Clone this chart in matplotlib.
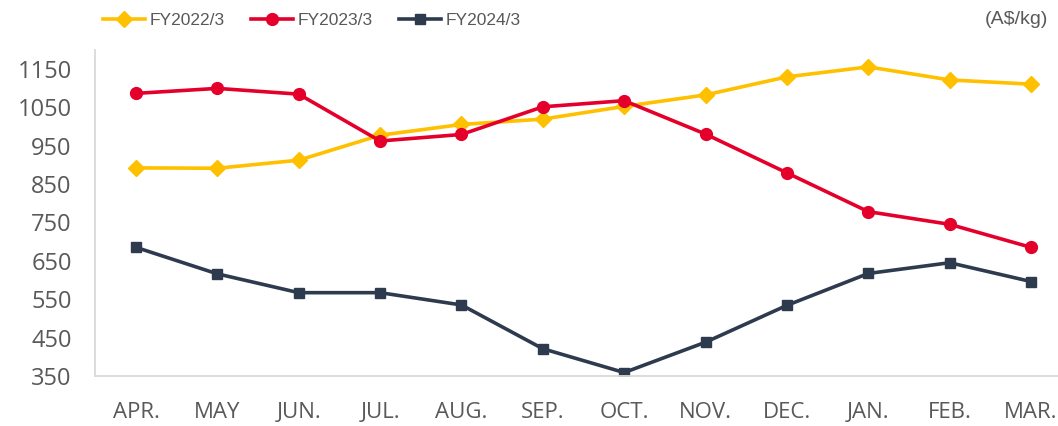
import matplotlib
matplotlib.use('Agg')
import matplotlib.pyplot as plt

months = ['APR.', 'MAY', 'JUN.', 'JUL.', 'AUG.', 'SEP.', 'OCT.', 'NOV.', 'DEC.', 'JAN.', 'FEB.', 'MAR.']
fy2022 = [892, 891, 912, 977, 1005, 1019, 1052, 1082, 1129, 1155, 1121, 1110]
fy2023 = [1086, 1099, 1084, 962, 979, 1051, 1067, 980, 879, 778, 745, 685]
fy2024 = [685, 616, 567, 567, 535, 421, 359, 438, 534, 617, 645, 596]
yticks = [350, 450, 550, 650, 750, 850, 950, 1050, 1150]

grey = '#595959'

fig = plt.figure(figsize=(10.58, 4.26), dpi=100)
ax = fig.add_axes([95.3/1058, 50/426, 976.4/1058, 326.4/426])

x = list(range(len(months)))
ax.plot(x, fy2022, color='#FFC000', lw=2.6, marker='D', ms=8.5, label='FY2022/3')
ax.plot(x, fy2023, color='#E4002B', lw=2.6, marker='o', ms=8.5, label='FY2023/3')
ax.plot(x, fy2024, color='#2E3B4E', lw=2.6, marker='s', ms=7.5, label='FY2024/3')

ax.set_xlim(-0.5, 11.5)
ax.set_ylim(350, 1200)
ax.set_xticks(x)
ax.set_xticklabels(months, fontfamily='Open Sans', fontsize=16, color=grey)
ax.set_yticks(yticks)
ax.set_yticklabels([str(v) for v in yticks], fontfamily='Open Sans', fontsize=17, color=grey)
ax.tick_params(axis='both', length=0)
ax.tick_params(axis='y', pad=17)
ax.tick_params(axis='x', pad=19)

for s in ['top', 'right']:
    ax.spines[s].set_visible(False)
for s in ['left', 'bottom']:
    ax.spines[s].set_color('#D9D9D9')
    ax.spines[s].set_linewidth(1.3)

leg = fig.legend(loc='center left', bbox_to_anchor=(103/1058, 1-20/426), ncol=3,
                 frameon=False, borderpad=0, borderaxespad=0, handlelength=2.4,
                 handletextpad=0.3, columnspacing=1.5,
                 prop={'family': 'Liberation Sans', 'size': 12.5})
for t in leg.get_texts():
    t.set_color(grey)

fig.text(1048/1058, 1-19/426, '(A$/kg)', ha='right', va='center',
         fontfamily='Liberation Sans', fontsize=14, color=grey)

fig.savefig('out.png', dpi=100)
